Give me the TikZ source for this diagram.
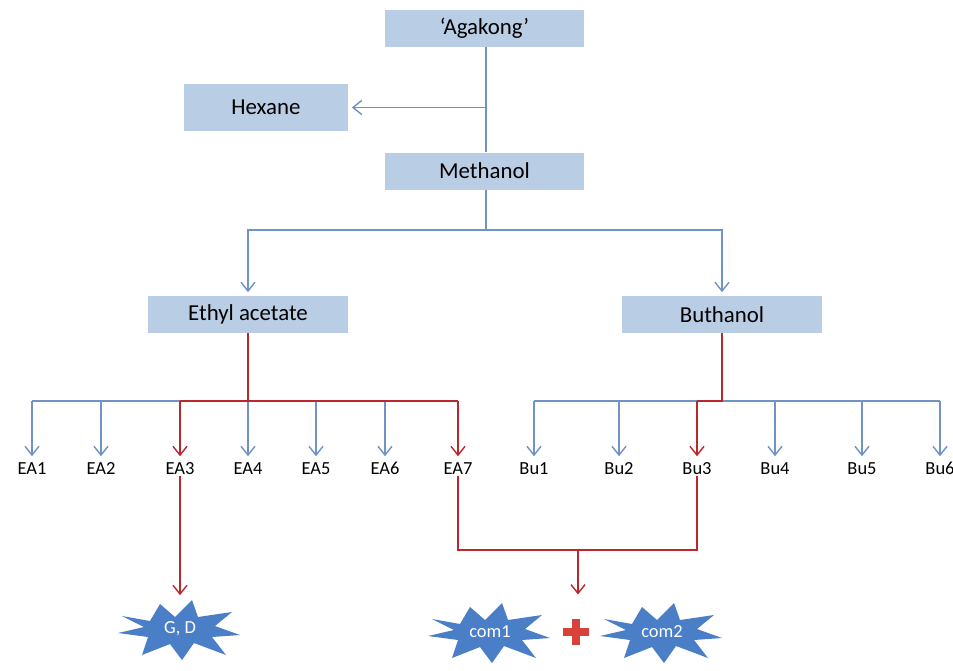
\documentclass[tikz,border=0pt]{standalone}
\usepackage{fontspec}
\setmainfont{Carlito}
\usetikzlibrary{
  arrows.meta,
  positioning,
  backgrounds,
}
\definecolor{boxfill}{HTML}{B9CDE5}
\definecolor{lineblue}{HTML}{6F93C4}
\definecolor{linered}{HTML}{B8282D}
\definecolor{burstblue}{HTML}{4A7EC6}
\definecolor{plusred}{HTML}{D9413B}

\begin{document}
\begin{tikzpicture}[
    x=0.02cm, y=-0.02cm,
    solvent/.style={fill=boxfill, minimum width=4cm, minimum height=0.74cm,
                    inner sep=0pt, font=\fontsize{13}{13}\selectfont},
    frac/.style={inner sep=1pt, text height=0.7em, text depth=0pt,
                 font=\fontsize{10.5}{10.5}\selectfont},
    burst/.style={minimum width=2.3cm, minimum height=1.2cm, inner sep=0pt,
                  text=white, font=\fontsize{10.5}{10.5}\selectfont},
    blueline/.style={draw=lineblue, thick},
    redline/.style={draw=linered, thick},
    tip/.style={-{Straight Barb[length=5pt,width=8pt]}, shorten >=2pt},
  ]
  \useasboundingbox (0,0) rectangle (953,670);

  % extraction steps
  \node[solvent] (ag)  at (484.5,28.5) {`Agakong'};
  \node[solvent, minimum width=3.28cm, minimum height=0.94cm]
                 (hex) at (266,107.5)  {Hexane};
  \node[solvent] (me)  at (484.5,171)  {Methanol};
  \node[solvent] (ea)  at (248,314.5)  {Ethyl acetate};
  \node[solvent] (bu)  at (722,314.5)  {Buthanol};

  \coordinate (hj) at (486,107.5);
  \coordinate (mj) at (486,230);
  \draw[blueline] (ag.south -| hj) -- (me.north -| hj);
  \draw[blueline, tip] (hj) -- (hex.east);
  \draw[blueline] (me.south -| mj) -- (mj);
  \draw[blueline, tip] (mj) -| (ea.north);
  \draw[blueline, tip] (mj) -| (bu.north);

  % ethyl acetate fractions
  \foreach \i/\x in {1/32,2/101,3/180,4/248,5/316,6/385,7/458}
    \node[frac] (ea\i) at (\x,468) {EA\i};
  \coordinate (eaj) at (248,401);
  \draw[blueline] (ea1.north |- eaj) -- (ea7.north |- eaj);
  \draw[blueline, line width=1.4pt] (ea2.north |- eaj) -- (ea3.north |- eaj);
  \foreach \i in {1,2,4,5,6}
    \draw[blueline, tip] (ea\i.north |- eaj) -- (ea\i.north);
  \draw[redline] (ea.south) -- (eaj);
  \draw[redline] (ea3.north |- eaj) -- (ea7.north |- eaj);
  \foreach \i in {3,7}
    \draw[redline, tip] (ea\i.north |- eaj) -- (ea\i.north);

  % buthanol fractions
  \foreach \i/\x in {1/534,2/619,3/697,4/775,5/862,6/940}
    \node[frac] (bu\i) at (\x,468) {Bu\i};
  \coordinate (buj) at (722,401);
  \draw[blueline] (bu1.north |- buj) -- (bu6.north |- buj);
  \foreach \i in {1,2,4,5,6}
    \draw[blueline, tip] (bu\i.north |- buj) -- (bu\i.north);
  \draw[redline] (bu.south) -- (buj) -- (bu3.north |- buj);
  \draw[redline, tip] (bu3.north |- buj) -- (bu3.north);

  % isolated compounds
  \node[burst] (gd) at (180,629) {G, D};
  \node[burst] (c1) at (490,632) {com1};
  \node[burst] (c2) at (662,632) {com2};
  \node[minimum size=0.5cm, inner sep=0pt] (plus) at (576,632) {};
  \draw[plusred, line width=0.15cm] (plus.west) -- (plus.east)
                                    (plus.north) -- (plus.south);

  \draw[redline, tip] (ea3.south) -- (gd.north);
  \coordinate (pj) at (578,550);
  \coordinate (pair) at (578,598);
  \draw[redline] (ea7.south) |- (pj) -| (bu3.south);
  \draw[redline, tip] (pj) -- (pair);

  \begin{scope}[on background layer]
    \foreach \s in {gd,c1,c2}
      \fill[burstblue, shift={(\s.center)}]
        (-58,-13) -- (-30,-8) -- (-20,-25) -- (-5,-12) -- (12,-29)
        -- (18,-12) -- (52,-17) -- (35,-3) -- (60,6) -- (32,8)
        -- (46,26) -- (14,14) -- (2,31) -- (-10,15) -- (-38,26)
        -- (-32,8) -- (-62,4) -- (-36,-2) -- cycle;
  \end{scope}
\end{tikzpicture}
\end{document}
